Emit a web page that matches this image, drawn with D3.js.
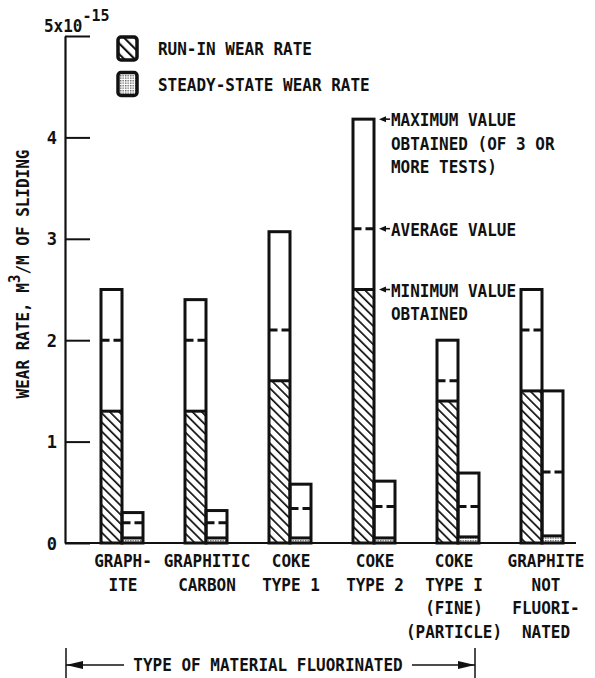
<!DOCTYPE html>
<html><head><meta charset="utf-8">
<script src="https://cdn.jsdelivr.net/npm/d3@7"></script>
<style>
html,body{margin:0;padding:0;background:#fff;}
text{font-family:"DejaVu Sans Mono","Liberation Mono",monospace;font-weight:bold;fill:#111;}
</style></head>
<body>
<svg id="chart" width="595" height="678"></svg>
<script>
// ---- data ----
const categories = ["Graphite","Graphitic carbon","Coke type 1","Coke type 2","Coke type I (fine)","Graphite not fluorinated"];
const categoryLabels = [
  ["GRAPH-","ITE"],
  ["GRAPHITIC","CARBON"],
  ["COKE","TYPE 1"],
  ["COKE","TYPE 2"],
  ["COKE","TYPE I","(FINE)","(PARTICLE)"],
  ["GRAPHITE","NOT","FLUORI-","NATED"]
];
const runInMax = [2.5, 2.4, 3.07, 4.18, 2.0, 2.5];
const runInAvg = [2.0, 2.0, 2.1, 3.1, 1.6, 2.1];
const runInMin = [1.3, 1.3, 1.6, 2.5, 1.4, 1.5];
const steadyMax = [0.3, 0.32, 0.58, 0.61, 0.69, 1.5];
const steadyAvg = [0.2, 0.2, 0.34, 0.36, 0.36, 0.7];
const steadyMin = [0.05, 0.05, 0.05, 0.05, 0.06, 0.07];
const yTicks = [0, 1, 2, 3, 4, 5];
const legendItems = ["RUN-IN WEAR RATE", "STEADY-STATE WEAR RATE"];
const annotations = [
  {key:"max", lines:["MAXIMUM VALUE","OBTAINED (OF 3 OR","MORE TESTS)"]},
  {key:"avg", lines:["AVERAGE VALUE"]},
  {key:"min", lines:["MINIMUM VALUE","OBTAINED"]}
];
const annotatedIndex = 3;
const xTitle = "TYPE OF MATERIAL FLUORINATED";

// ---- drawing ----
const svg = d3.select("#chart");
const FS = 16, SY = 1.1;
function txt(parent, x, y, s, anchor, fs) {
  return parent.append("text")
    .attr("transform", `translate(${x},${y}) scale(1,${SY})`)
    .attr("text-anchor", anchor || "start")
    .attr("font-size", fs || FS).text(s);
}

const defs = svg.append("defs");
const hatch = defs.append("pattern").attr("id","hatch").attr("patternUnits","userSpaceOnUse")
  .attr("width",6.5).attr("height",6.5).attr("patternTransform","rotate(-45)");
hatch.append("rect").attr("width",6.5).attr("height",6.5).attr("fill","#fff");
hatch.append("line").attr("x1",0).attr("y1",0).attr("x2",0).attr("y2",6.5)
  .attr("stroke","#111").attr("stroke-width",3.4);
const hatchL = defs.append("pattern").attr("id","hatchL").attr("patternUnits","userSpaceOnUse")
  .attr("width",7.5).attr("height",7.5).attr("patternTransform","rotate(-45)");
hatchL.append("rect").attr("width",7.5).attr("height",7.5).attr("fill","#fff");
hatchL.append("line").attr("x1",0).attr("y1",0).attr("x2",0).attr("y2",7.5)
  .attr("stroke","#111").attr("stroke-width",4.2);
const dots = defs.append("pattern").attr("id","dots").attr("patternUnits","userSpaceOnUse")
  .attr("width",2.5).attr("height",2.5);
dots.append("rect").attr("width",2.5).attr("height",2.5).attr("fill","#fff");
dots.append("rect").attr("width",1.4).attr("height",1.4).attr("fill","#666");

const y = d3.scaleLinear().domain([0,5]).range([543,36]);
const x = d3.scalePoint().domain(categories).range([122,542]);
const bw = 21;
const axisX = 65;

// y axis
const yAxis = d3.axisLeft(y).tickValues(yTicks).tickSizeInner(-25).tickSizeOuter(0).tickPadding(8)
  .tickFormat(d => d === 5 ? "" : d3.format("d")(d));
const ga = svg.append("g").attr("transform",`translate(${axisX},0)`).call(yAxis);
ga.select(".domain").attr("stroke","#111").attr("stroke-width",2.2);
ga.selectAll(".tick line").attr("stroke","#111").attr("stroke-width",2);
ga.selectAll(".tick text").style("font-family","'DejaVu Sans Mono',monospace")
  .style("font-weight","bold").style("font-size","17px").attr("fill","#111").attr("dy","0.36em");
// 5x10^-15 label
const t5 = svg.append("text").attr("transform",`translate(44,${y(5)-4}) scale(1,${SY})`).attr("font-size",16);
t5.append("tspan").text("5x10");
t5.append("tspan").attr("dy",-10).attr("font-size",15).text("-15");

// baseline
svg.append("line").attr("x1",axisX).attr("x2",576).attr("y1",y(0)).attr("y2",y(0))
  .attr("stroke","#111").attr("stroke-width",2.2);

// y title
const yt = svg.append("text").attr("transform",`translate(29,${274}) rotate(-90) scale(1,${SY})`)
  .attr("text-anchor","middle").attr("font-size",FS);
yt.append("tspan").text("WEAR RATE, M");
yt.append("tspan").attr("dy",-8).attr("font-size",14).text("3");
yt.append("tspan").attr("dy",8).text("/M OF SLIDING");

// bars
const sw = 3;
categories.forEach((c,i) => {
  const cx = x(c);
  const drawBar = (x0, mx, av, mn, fill) => {
    svg.append("rect").attr("x",x0).attr("y",y(mn)).attr("width",bw).attr("height",y(0)-y(mn))
      .attr("fill",fill);
    svg.append("rect").attr("x",x0).attr("y",y(mx)).attr("width",bw).attr("height",y(0)-y(mx))
      .attr("fill","none").attr("stroke","#111").attr("stroke-width",sw);
    svg.append("line").attr("x1",x0).attr("x2",x0+bw).attr("y1",y(mn)).attr("y2",y(mn))
      .attr("stroke","#111").attr("stroke-width",sw);
    svg.append("line").attr("x1",x0).attr("x2",x0+bw).attr("y1",y(av)).attr("y2",y(av))
      .attr("stroke","#111").attr("stroke-width",sw).attr("stroke-dasharray","8.5,4,8.5");
  };
  drawBar(cx-bw, runInMax[i], runInAvg[i], runInMin[i], "url(#hatch)");
  drawBar(cx, steadyMax[i], steadyAvg[i], steadyMin[i], "url(#dots)");
  categoryLabels[i].forEach((ln,j) => {
    txt(svg, cx + (i===4?-4:(i===5?4:1)), 567+23.5*j, ln, "middle");
  });
});

// annotations on Coke type 2 run-in bar
const ac = x(categories[annotatedIndex]);
const levels = {max:runInMax[annotatedIndex], avg:runInAvg[annotatedIndex], min:runInMin[annotatedIndex]};
annotations.forEach(a => {
  const yy = y(levels[a.key]);
  const x0 = ac + 5, x1 = ac + 16;
  svg.append("line").attr("x1",x0+5).attr("x2",x1).attr("y1",yy).attr("y2",yy)
    .attr("stroke","#111").attr("stroke-width",1.6);
  svg.append("path").attr("d",`M${x0},${yy} L${x0+7},${yy-3} L${x0+7},${yy+3} Z`).attr("fill","#111");
  a.lines.forEach((ln,j) => {
    txt(svg, ac+17, yy+7+23.5*j, ln, "start");
  });
});

// legend
const legendFills = ["url(#hatchL)","url(#dots)"];
legendItems.forEach((t,i) => {
  const ly = 37 + i*35.5;
  svg.append("rect").attr("x",118).attr("y",ly).attr("width",19).attr("height",23).attr("rx",3)
    .attr("fill",legendFills[i]).attr("stroke","#111").attr("stroke-width",3.5);
  txt(svg, 158, ly+18, t, "start");
});

// bottom arrow
const by = 665, bx0 = 66, bx1 = 475;
svg.append("line").attr("x1",bx0).attr("x2",bx0).attr("y1",648).attr("y2",678).attr("stroke","#111").attr("stroke-width",1.5);
svg.append("line").attr("x1",bx1).attr("x2",bx1).attr("y1",648).attr("y2",678).attr("stroke","#111").attr("stroke-width",1.5);
svg.append("line").attr("x1",bx0).attr("x2",124).attr("y1",by).attr("y2",by).attr("stroke","#111").attr("stroke-width",1.5);
svg.append("line").attr("x1",412).attr("x2",bx1).attr("y1",by).attr("y2",by).attr("stroke","#111").attr("stroke-width",1.5);
svg.append("path").attr("d",`M${bx0},${by} L${bx0+17},${by-4} L${bx0+17},${by+4} Z`).attr("fill","#111");
svg.append("path").attr("d",`M${bx1},${by} L${bx1-17},${by-4} L${bx1-17},${by+4} Z`).attr("fill","#111");
txt(svg, 268, by+6, xTitle, "middle");
</script>
</body></html>
